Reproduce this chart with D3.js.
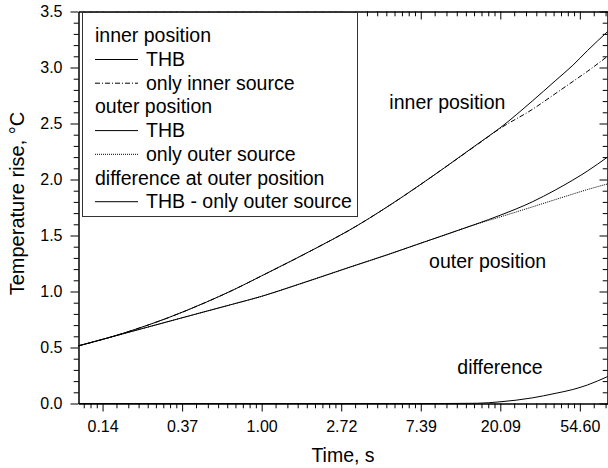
<!DOCTYPE html>
<html>
<head>
<meta charset="utf-8">
<script src="https://cdn.jsdelivr.net/npm/d3@7"></script>
<style>
    body { margin: 0; background: #fff; }
    svg { display: block; font-family: "Liberation Sans", Arial, Helvetica, sans-serif; }
    .tick line, .domain { stroke: #000; }
</style>
</head>
<body>
<div id="chart"></div>
<script>
// time axis (s), log scaled with ticks at e^n
let time = [0.1, 0.15, 0.2, 0.3, 0.5, 0.7, 1, 1.5, 2, 3, 5, 7, 10, 15, 20, 30, 40, 50, 60, 77.3];

// temperature rise, °C
let innerTHB   = [0.515, 0.593, 0.657, 0.758, 0.906, 1.014, 1.140, 1.285, 1.391, 1.546, 1.770, 1.930, 2.107, 2.314, 2.460, 2.700, 2.880, 3.020, 3.150, 3.320];
let innerOnly  = [0.515, 0.593, 0.657, 0.758, 0.906, 1.014, 1.140, 1.285, 1.391, 1.546, 1.770, 1.930, 2.107, 2.310, 2.455, 2.625, 2.765, 2.875, 2.965, 3.100];
let outerTHB   = [0.515, 0.593, 0.648, 0.726, 0.824, 0.888, 0.957, 1.050, 1.118, 1.215, 1.335, 1.418, 1.505, 1.605, 1.680, 1.800, 1.905, 1.995, 2.075, 2.200];
let outerOnly  = [0.515, 0.593, 0.648, 0.726, 0.824, 0.888, 0.957, 1.050, 1.118, 1.215, 1.335, 1.418, 1.505, 1.603, 1.665, 1.755, 1.820, 1.870, 1.910, 1.960];
let difference = [0, 0, 0, 0, 0, 0, 0, 0, 0, 0, 0, 0, 0, 0.002, 0.015, 0.050, 0.090, 0.125, 0.165, 0.240];

// tick labels
let xTickPowers = [-2, -1, 0, 1, 2, 3, 4];
let xTickLabels = ['0.14', '0.37', '1.00', '2.72', '7.39', '20.09', '54.60'];
let yTicks = [0, 0.5, 1, 1.5, 2, 2.5, 3, 3.5];
let yTickLabels = ['0.0', '0.5', '1.0', '1.5', '2.0', '2.5', '3.0', '3.5'];

let legendRows = [
    {text: 'inner position'},
    {text: 'THB', dash: null},
    {text: 'only inner source', dash: '5,2,1,2'},
    {text: 'outer position'},
    {text: 'THB', dash: null},
    {text: 'only outer source', dash: '1,1'},
    {text: 'difference at outer position'},
    {text: 'THB - only outer source', dash: null}
];

const width = 608, height = 468;
let margin = {top: 11.5, left: 78.5, right: 0.5, bottom: 64.5};

let svg = d3.select('#chart').append('svg')
    .attr('width', width)
    .attr('height', height);

let x = d3.scaleLog()
    .domain([0.1, 77.3])
    .range([margin.left, width - margin.right]);

let y = d3.scaleLinear()
    .domain([0, 3.5])
    .range([height - margin.bottom, margin.top]);

let xMajor = xTickPowers.map(p => Math.exp(p));
// Origin-style minor ticks: 8 evenly spaced values between majors
let xMinor = [];
for (let n = -3; n <= 4; n++) {
    let a = Math.exp(n), b = Math.exp(n + 1);
    for (let k = 1; k <= 8; k++) {
        let v = a + k * (b - a) / 9;
        if (v > x.domain()[0] && v < x.domain()[1]) xMinor.push(v);
    }
}
let yMinor = d3.range(0.1, 3.5, 0.1).filter(v => Math.abs(v * 2 - Math.round(v * 2)) > 0.01);

let x0 = margin.left, x1 = width - margin.right;
let y0 = height - margin.bottom, y1 = margin.top;

function drawAxis(axisFn, scale, major, minor, len, transform, labels) {
    let g = svg.append('g').attr('transform', transform);
    g.append('g').call(axisFn(scale).tickValues(minor).tickSize(len * 0.6).tickSizeOuter(0).tickFormat(''));
    let m = g.append('g').call(axisFn(scale).tickValues(major).tickSize(len).tickSizeOuter(0)
        .tickFormat((d, i) => labels ? labels[i] : ''));
    m.selectAll('text').attr('font-size', 16).attr('fill', '#000')
        .attr('font-family', '"Liberation Sans", Arial, sans-serif');
    return m;
}

let bx = drawAxis(d3.axisBottom, x, xMajor, xMinor, 8, `translate(0,${y0})`, xTickLabels);
bx.selectAll('text').attr('dy', null).attr('y', 28);
drawAxis(d3.axisTop, x, xMajor, xMinor, -8, `translate(0,${y1})`, null);
let ly = drawAxis(d3.axisLeft, y, yTicks, yMinor, 8, `translate(${x0},0)`, yTickLabels);
ly.selectAll('text').attr('x', -16);
drawAxis(d3.axisRight, y, yTicks, yMinor, -8, `translate(${x1},0)`, null);

// curves
let line = d3.line()
    .x((d, i) => x(time[i]))
    .y(d => y(d))
    .curve(d3.curveMonotoneX);

let series = [
    {values: outerOnly, dash: '1,1'},
    {values: innerOnly, dash: '5,2,1,2'},
    {values: innerTHB, dash: null},
    {values: outerTHB, dash: null},
    {values: difference, dash: null}
];

svg.append('g').selectAll('path')
    .data(series)
    .join('path')
    .attr('d', d => line(d.values))
    .attr('fill', 'none')
    .attr('stroke', '#000')
    .attr('stroke-width', 1)
    .attr('stroke-dasharray', d => d.dash);

// curve annotations
let notes = [
    {text: 'inner position', t: 4.98, v: 2.63},
    {text: 'outer position', t: 8.2, v: 1.21},
    {text: 'difference', t: 11.7, v: 0.26}
];
svg.append('g').selectAll('text')
    .data(notes)
    .join('text')
    .attr('x', d => x(d.t))
    .attr('y', d => y(d.v))
    .attr('font-size', 19.5)
    .text(d => d.text);

// legend
let legend = svg.append('g');
legend.append('rect')
    .attr('x', 82.5).attr('y', 12.5)
    .attr('width', 275).attr('height', 204)
    .attr('fill', '#fff')
    .attr('stroke', '#333');

let rows = legend.selectAll('g.row')
    .data(legendRows)
    .join('g')
    .attr('class', 'row')
    .attr('transform', (d, i) => `translate(0,${42.3 + i * 23.7})`);

rows.filter(d => d.dash !== undefined)
    .append('line')
    .attr('x1', 95).attr('x2', 138)
    .attr('y1', -6.5).attr('y2', -6.5)
    .attr('stroke', '#000')
    .attr('stroke-dasharray', d => d.dash);

rows.append('text')
    .attr('x', d => d.dash !== undefined ? 146 : 95)
    .attr('font-size', 19.5)
    .text(d => d.text);

// axis titles
svg.append('text')
    .attr('x', (x0 + x1) / 2)
    .attr('y', 461.5)
    .attr('text-anchor', 'middle')
    .attr('font-size', 19.5)
    .text('Time, s');

svg.append('text')
    .attr('transform', `translate(24,${(y0 + y1) / 2 - 4}) rotate(-90)`)
    .attr('text-anchor', 'middle')
    .attr('font-size', 20)
    .text('Temperature rise, °C');
</script>
</body>
</html>
